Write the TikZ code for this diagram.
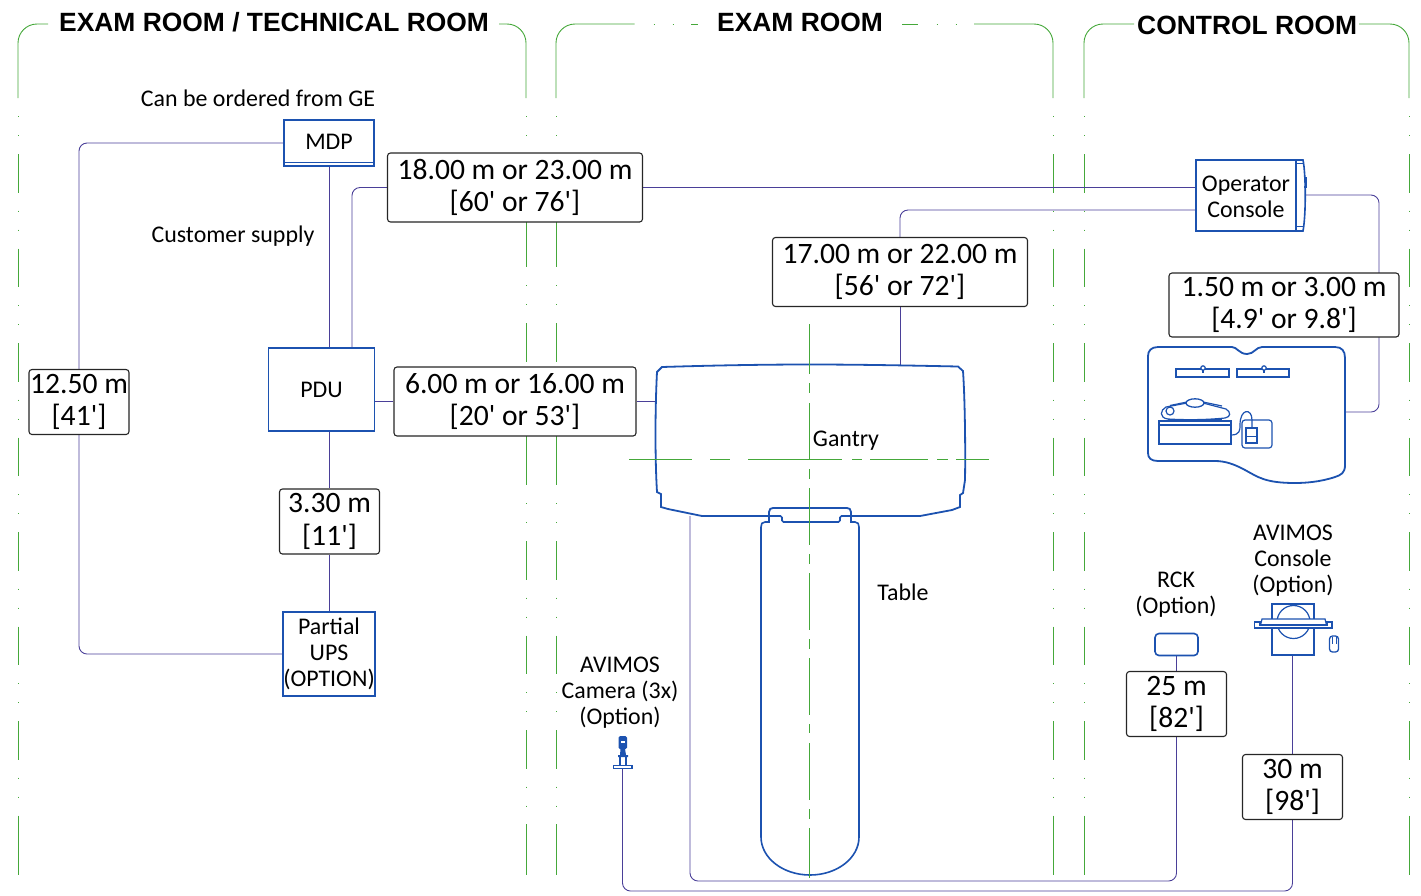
\documentclass[tikz,border=0pt]{standalone}
\usepackage{fontspec}
\setmainfont{Carlito}
\newfontfamily\cf{Carlito}
\newfontfamily\titlefont{Liberation Sans}
\definecolor{gr}{HTML}{45A83A}
\definecolor{bl}{HTML}{1C52B0}
\definecolor{pu}{HTML}{4A3F98}
\pgfdeclarelayer{bg}
\pgfsetlayers{bg,main}
\tikzset{
  x=1pt,y=-1pt,
  room/.style={gr,line width=.9pt,dash pattern=on 38.5pt off 18pt on 1pt off 18pt on 1pt off 18pt,dash phase=38.5pt},
  roomsolid/.style={gr,line width=.9pt},
  solidroom/.style={gr,line width=.9pt,rounded corners=19pt},
  cl/.style={gr,line width=.9pt},
  eq/.style={bl,line width=1.8pt,fill=white},
  eqt/.style={bl,line width=1.2pt},
  wire/.style={pu,line width=.9pt,rounded corners=8pt},
  dim/.style={draw=black!85,line width=1.1pt,fill=white,rounded corners=3pt,font=\cf\fontsize{29.6}{32.5}\selectfont,align=center,inner sep=0pt},
  lab/.style={font=\cf\fontsize{23.9}{26}\selectfont,align=center,inner sep=0pt,text=black},
  ttl/.style={font=\titlefont\bfseries\fontsize{26.4}{30}\selectfont,inner sep=0pt,text=black},
  boxn/.style={draw=bl,line width=1.7pt,fill=white,inner sep=0pt,align=center,font=\cf\fontsize{23.9}{26}\selectfont}
}
\begin{document}
\begin{tikzpicture}
\useasboundingbox (0,0) rectangle (1421,895);
% titles
\node[ttl,anchor=base west] (t1) at (59,31) {EXAM ROOM / TECHNICAL ROOM};
\node[ttl,anchor=base west] (t2) at (717,31) {EXAM ROOM};
\node[ttl,anchor=base west] (t3) at (1137,34) {CONTROL ROOM};
% gantry
\draw[eq] (662,367) .. controls (710,365.5) and (760,364.5) .. (809,364.5) .. controls (860,364.5) and (910,365.5) .. (958,366.5) -- (963,371) .. controls (965,400) and (965.5,450) .. (965,480) -- (963,493) -- (960,495) -- (960,507) -- (952,510) -- (920,516) -- (851,516) -- (851,512) .. controls (851,509) and (849,508) .. (847,508) -- (773,508) .. controls (771,508) and (769,509) .. (769,512) -- (769,516) -- (702,516) -- (668,509) -- (661,507) -- (661,494) -- (657,492) .. controls (655,460) and (655,410) .. (657,372) -- cycle;
% table
\path[fill=white] (769,522) -- (765,522) .. controls (762,522) and (761,524) .. (761,527) -- (761,837) arc[start angle=180,end angle=0,x radius=49,y radius=38] -- (859,527) .. controls (859,524) and (858,522) .. (855,522) -- (851,522) -- cycle;
\draw[bl,line width=1.6pt] (769,516) -- (769,522) -- (765,522) .. controls (762,522) and (761,524) .. (761,527) -- (761,837) arc[start angle=180,end angle=0,x radius=49,y radius=38] -- (859,527) .. controls (859,524) and (858,522) .. (855,522) -- (851,522) -- (851,516);
\draw[bl,line width=1.6pt,rounded corners=1.5pt] (769,516) -- (782,516) -- (782,522) -- (840,522) -- (840,516) -- (851,516);
% centre lines
\foreach \a/\b in {629/692,710/730,748/842,852/862,870/928,937/948,956/989}
  \draw[cl] (\a,459.5) -- (\b,459.5);
\foreach \a/\b in {324/374,383/393,403/460,469/479,488/545,554/564,573/630,639/649,658/715,724/733,743/800,809/819,828/878}
  \draw[cl] (809.5,\a) -- (809.5,\b);
% dims
\node[dim,minimum width=255pt,minimum height=69pt] (d1) at (515,187.5) {18.00 m or 23.00 m\\{}[60' or 76']};
\node[dim,minimum width=255pt,minimum height=69pt] (d2) at (900,272) {17.00 m or 22.00 m\\{}[56' or 72']};
\node[dim,minimum width=230pt,minimum height=64pt] (d3) at (1284,305) {1.50 m or 3.00 m\\{}[4.9' or 9.8']};
\node[dim,minimum width=242pt,minimum height=69pt] (d4) at (515,401.5) {6.00 m or 16.00 m\\{}[20' or 53']};
\node[dim,minimum width=100pt,minimum height=65pt] (d5) at (79,402) {12.50 m\\{}[41']};
\node[dim,minimum width=100pt,minimum height=65pt] (d6) at (329.5,521.5) {3.30 m\\{}[11']};
\node[dim,minimum width=100pt,minimum height=65pt] (d7) at (1176.5,704) {25 m\\{}[82']};
\node[dim,minimum width=100pt,minimum height=65pt] (d8) at (1292.5,787) {30 m\\{}[98']};
% boxes
\node[boxn,minimum width=90pt,minimum height=46pt,text height=16pt,text depth=4pt] (mdp) at (329,143) {MDP};
\draw[bl,line width=1pt] (284,162) -- (374,162);
\node[boxn,minimum width=106pt,minimum height=83pt] (pdu) at (321.5,389.5) {PDU};
\node[boxn,minimum width=91pt,minimum height=84pt] (ups) at (329,654) {Partial\\UPS\\(OPTION)};
% operator console
\draw[bl,line width=1.6pt,fill=white] (1196,160) -- (1303,160) .. controls (1306,175) and (1306,215) .. (1303,231) -- (1196,231) -- cycle;
\draw[bl,line width=1.1pt] (1296,160) -- (1296,231) (1296,163.5) -- (1303,163.5) (1296,226.5) -- (1303,226.5) (1304,178) -- (1306,178) -- (1306,187) -- (1304,187);
\draw[bl,line width=2.6pt] (1196,167) -- (1196,223);
\node[lab] (oc) at (1246,197) {Operator\\Console};
\coordinate (ocw) at (1196,187.5);
\coordinate (ocwb) at (1196,210);
\coordinate (oce) at (1305,195);
% workstation desk
\draw[eq] (1158,347) -- (1232,347) .. controls (1237,347) and (1239,354) .. (1247,354) .. controls (1254,354) and (1256,347) .. (1262,347) -- (1335,347) .. controls (1342,347) and (1345,351) .. (1345,358) -- (1345,465) .. controls (1345,473) and (1341,475) .. (1335,477) .. controls (1320,482) and (1305,483) .. (1295,483) .. controls (1265,483) and (1258,477) .. (1245,470) .. controls (1234,464) and (1225,461) .. (1215,461) -- (1158,461) .. controls (1151,461) and (1148,458) .. (1148,453) -- (1148,356) .. controls (1148,351) and (1151,347) .. (1158,347) -- cycle;
\draw[eqt] (1176,369) rectangle (1229,377);
\draw[eqt] (1237,369) rectangle (1289,377);
\draw[eqt,fill=white] (1203,368) circle[radius=2.2];
\draw[eqt,fill=white] (1264,368) circle[radius=2.2];
\draw[eqt] (1203,370) -- (1203,373) (1264,370) -- (1264,373);
\draw[bl,line width=1.4pt] (1159,421) rectangle (1231,444);
\draw[eqt] (1159,425) -- (1231,425);
\draw[eqt] (1168,419) .. controls (1159,418) and (1160,410) .. (1166,407) -- (1187,403) (1203,403) -- (1226,409) .. controls (1231,412) and (1231,417) .. (1225,418) .. controls (1205,420) and (1185,420) .. (1168,419);
\draw[eqt] (1170,405.5) -- (1187,402);
\draw[eqt] (1203,402) -- (1222,406);
\draw[eqt,fill=white] (1170,411) circle[radius=4];
\draw[bl,line width=1.3pt,fill=white] (1195,403) ellipse[x radius=9,y radius=4.2];
\draw[bl,line width=1.8pt] (1168,420) -- (1222,420);
\draw[eqt] (1231,435) .. controls (1240,435) and (1240,430) .. (1240,425) .. controls (1240,408) and (1252,408) .. (1252,420) -- (1252,428);
\draw[eqt,rounded corners=3pt] (1242,420) rectangle (1272,448);
\draw[eqt,fill=white] (1246,428) rectangle (1257,443);
\draw[eqt] (1246,436.5) -- (1257,436.5);
\coordinate (deske) at (1345,412);
% RCK
\node[draw=bl,line width=1.6pt,rounded corners=4pt,fill=white,inner sep=0pt,minimum width=43pt,minimum height=22pt] (rck) at (1176.5,644.5) {};
% AVIMOS console
\node[draw=bl,line width=1.6pt,fill=white,inner sep=0pt,minimum width=42pt,minimum height=51pt] (avc) at (1293,629.5) {};
\draw[eqt] (1293.5,622) circle[radius=16.5];
\draw[bl,line width=1.2pt,fill=white] (1260,627) -- (1262,619) -- (1325,619) -- (1327,627) -- cycle;
\draw[bl,line width=1.2pt,fill=white] (1254.5,622) -- (1260,622) -- (1260,625) -- (1327,625) -- (1327,622) -- (1332,622) -- (1332,628) -- (1254.5,628) -- cycle;
\draw[bl,line width=1.3pt,rounded corners=3pt] (1329.5,636) rectangle (1338.5,652);
\draw[bl,line width=.9pt] (1332,637) -- (1332,644) (1336,637) -- (1336,644);
% camera
\fill[bl,rounded corners=1.5pt] (618.5,736) rectangle (627,749);
\fill[white] (620.5,741) rectangle (625,743);
\fill[bl] (620.5,749) -- (625,749) -- (626,755) -- (628,755) -- (628,757) -- (618,757) -- (618,755) -- (620,755) -- cycle;
\draw[bl,line width=1.2pt] (620,757) -- (620,766) (626,757) -- (626,766);
\draw[bl,line width=1.4pt,fill=white] (613.5,765.5) rectangle (632,768.5);
\coordinate (cam) at (622.5,769);
% labels
\node[lab] (l1) at (258,98.5) {Can be ordered from GE};
\node[lab] (l2) at (233,236.5) {Customer supply};
\node[lab] (l3) at (846,441) {Gantry};
\node[lab] (l4) at (903,592) {Table};
\node[lab] (l5) at (620,693) {AVIMOS\\Camera (3x)\\(Option)};
\node[lab] (l6) at (1176,595) {RCK\\(Option)};
\node[lab] (l7) at (1293,561) {AVIMOS\\Console\\(Option)};
% connector way-points
\coordinate (pdut) at (352,348);
\coordinate (gtop) at (900,366);
\coordinate (gleft) at (657,401.5);
\coordinate (gb) at (690,516);
\coordinate (c1) at (1379,300);
\coordinate (c2) at (1176.5,881);
\coordinate (c3) at (1292.5,891);
\begin{pgfonlayer}{bg}
% room outlines
\draw[solidroom] (48,24) -- (18,24) -- (18,98);
\draw[room] (18,98) -- (18,816);
\draw[roomsolid] (18,816) -- (18,875);
\draw[solidroom] (499,24) -- (526,24) -- (526,98);
\draw[room] (526,98) -- (526,160);
\draw[roomsolid] (526,215) -- (526,267);
\draw[room] (526,267) -- (526,370);
\draw[roomsolid] (526,430) -- (526,485);
\draw[room] (526,485) -- (526,824);
\draw[roomsolid] (526,824) -- (526,875);
\draw[solidroom] (634.5,24) -- (556,24) -- (556,98);
\draw[room] (556,98) -- (556,160);
\draw[roomsolid] (556,215) -- (556,267);
\draw[room] (556,267) -- (556,370);
\draw[roomsolid] (556,430) -- (556,485);
\draw[room] (556,485) -- (556,824);
\draw[roomsolid] (556,824) -- (556,875);
\draw[roomsolid] (653.5,24) -- (654.5,24) (672.5,24) -- (673.5,24) (691,24) -- (698,24);
\draw[roomsolid] (902,24) -- (918,24) (936.5,24) -- (937.5,24) (955.5,24) -- (956.5,24);
\draw[solidroom] (974,24) -- (1053,24) -- (1053,98);
\draw[room] (1053,98) -- (1053,816);
\draw[roomsolid] (1053,816) -- (1053,875);
\draw[solidroom] (1134,24) -- (1084,24) -- (1084,98);
\draw[room] (1084,98) -- (1084,816);
\draw[roomsolid] (1084,816) -- (1084,875);
\draw[solidroom] (1359,24) -- (1409,24) -- (1409,98);
\draw[room] (1409,98) -- (1409,816);
\draw[roomsolid] (1409,816) -- (1409,875);
% wires
\draw[wire] (mdp.west) -| (d5.north);
\draw[wire] (d5.south) |- (ups.west);
\draw[wire] (mdp.south) -- (mdp.south |- pdu.north);
\draw[wire] (d1.west) -| (pdut);
\draw[wire] (d1.east) -- (ocw);
\draw[wire] (ocwb) -| (d2.north);
\draw[wire] (d2.south) -- (gtop);
\draw[wire] (pdu.east |- d4.west) -- (d4.west);
\draw[wire] (d4.east) -- (gleft);
\draw[wire] (d6.north |- pdu.south) -- (d6.north);
\draw[wire] (d6.south) -- (d6.south |- ups.north);
\draw[wire] (oce) -| (c1) |- (deske);
\draw[wire] (gb) |- (c2) -- (d7.south);
\draw[wire] (d7.north) -- (rck.south);
\draw[wire] (cam) |- (c3) -- (d8.south);
\draw[wire] (d8.north) -- (d8.north |- avc.south);
\end{pgfonlayer}
\end{tikzpicture}
\end{document}
